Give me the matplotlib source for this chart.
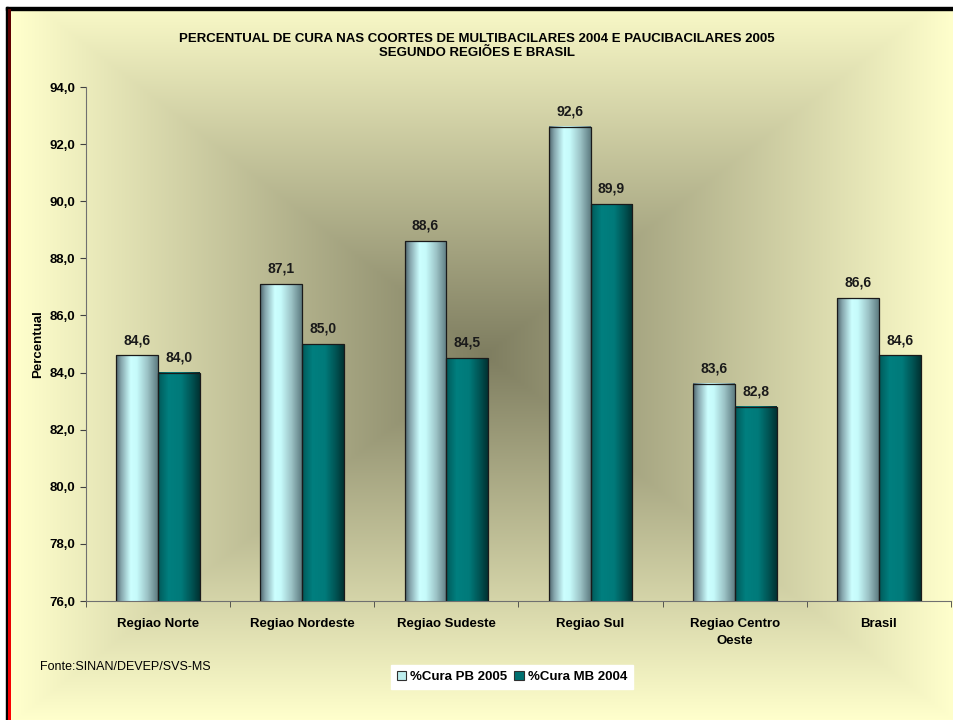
import numpy as np
import matplotlib
matplotlib.use('Agg')
import matplotlib.pyplot as plt
import matplotlib.patches as patches
from matplotlib.colors import LinearSegmentedColormap
from matplotlib.ticker import FuncFormatter, FixedLocator

plt.rcParams['font.family'] = ['Liberation Sans', 'DejaVu Sans']

# data
categories = ['Regiao Norte', 'Regiao Nordeste', 'Regiao Sudeste', 'Regiao Sul',
              'Regiao Centro\nOeste', 'Brasil']
cura_pb_2005 = [84.6, 87.1, 88.6, 92.6, 83.6, 86.6]
cura_mb_2004 = [84.0, 85.0, 84.5, 89.9, 82.8, 84.6]
series_names = ['%Cura PB 2005', '%Cura MB 2004']
y_ticks = [76, 78, 80, 82, 84, 86, 88, 90, 92, 94]

W, H = 954, 720
fig = plt.figure(figsize=(W / 100, H / 100), dpi=100)
fig.patch.set_facecolor('white')

# background: rectangular "from center" gradient
bg = fig.add_axes([0, 0, 1, 1])
bg.set_xlim(0, W)
bg.set_ylim(H, 0)
bg.axis('off')
gx = np.linspace(10, W, 400)
gy = np.linspace(10, H, 300)
XX, YY = np.meshgrid(gx, gy)
cx, cy = 485, 355
t = np.maximum(np.abs(XX - cx) / (W - cx), np.abs(YY - cy) / (H - cy))
t = np.clip(t, 0, 1)
dark = np.array([126, 125, 96]) / 255.
yel = np.array([255, 255, 204]) / 255.
img = dark[None, None, :] + (yel - dark)[None, None, :] * t[..., None]
bg.imshow(img, extent=(10, W, H, 10), aspect='auto', interpolation='bilinear', zorder=0)

# frame lines
bg.add_patch(patches.Rectangle((6, 7), W - 6, 2.5, color='black', zorder=3))
bg.add_patch(patches.Rectangle((6, 7), 2.2, H - 7, color='black', zorder=3))
red = np.linspace(0, 1, 200)[:, None, None] * np.array([1.0, 0, 0]) + \
      (1 - np.linspace(0, 1, 200))[:, None, None] * np.array([0.35, 0, 0])
bg.imshow(red, extent=(8.2, 10.5, H, 9.5), aspect='auto', zorder=3)
bg.set_xlim(0, W)
bg.set_ylim(H, 0)

# main axes
ax = fig.add_axes([86 / W, 119 / H, 865 / W, 514 / H])
ax.set_facecolor('none')

x = np.arange(len(categories))
w = 0.29
bars_pb = ax.bar(x - w / 2, cura_pb_2005, w, facecolor='none', edgecolor='#1a1a1a', lw=0.9, zorder=3)
bars_mb = ax.bar(x + w / 2, cura_mb_2004, w, facecolor='none', edgecolor='#1a1a1a', lw=0.9, zorder=3)

pb_cmap = LinearSegmentedColormap.from_list('pb', [
    (0.0, '#4f666e'), (0.12, '#86a6ad'), (0.35, '#ccffff'), (0.5, '#c6fafa'),
    (0.75, '#9cc3c6'), (1.0, '#5f7d82')])
mb_cmap = LinearSegmentedColormap.from_list('mb', [
    (0.0, '#005a5a'), (0.25, '#007f7f'), (0.55, '#007a7a'), (0.8, '#005555'),
    (1.0, '#003232')])

grad = np.linspace(0, 1, 100)[None, :]
for bars, cmap in ((bars_pb, pb_cmap), (bars_mb, mb_cmap)):
    for p in bars:
        ax.imshow(grad, cmap=cmap, extent=(p.get_x(), p.get_x() + p.get_width(), 76, p.get_height()),
                  aspect='auto', zorder=2, interpolation='bilinear')
        ax.annotate(f'{p.get_height():.1f}'.replace('.', ','),
                    (p.get_x() + p.get_width() / 2, p.get_height()),
                    xytext=(0, 6), textcoords='offset points', ha='center', va='bottom',
                    fontsize=10, fontweight='bold', color='#1a1a1a')

ax.set_xlim(-0.5, len(categories) - 0.5)
ax.set_ylim(76, 94)
ax.set_yticks(y_ticks)
ax.yaxis.set_major_formatter(FuncFormatter(lambda v, pos: f'{v:.1f}'.replace('.', ',')))
ax.set_xticks(x)
ax.set_xticklabels(categories, fontsize=9.5, fontweight='bold', linespacing=1.6)
ax.xaxis.set_minor_locator(FixedLocator(np.arange(-0.5, len(categories), 1.0)))
ax.tick_params(axis='x', which='major', length=0, pad=12)
ax.tick_params(axis='x', which='minor', length=4, color='#404040', direction='out')
ax.tick_params(axis='y', length=4, color='#404040', direction='out', labelsize=9.5)
for lab in ax.get_yticklabels():
    lab.set_fontweight('bold')
for s in ('top', 'right'):
    ax.spines[s].set_visible(False)
for s in ('left', 'bottom'):
    ax.spines[s].set_color('#707070')
ax.set_ylabel('Percentual', fontsize=9.5, fontweight='bold', labelpad=4)

fig.text(477 / W, 1 - 46 / H,
         'PERCENTUAL DE CURA NAS COORTES DE MULTIBACILARES 2004 E PAUCIBACILARES 2005\nSEGUNDO REGIÕES E BRASIL',
         ha='center', va='center', fontsize=9.5, fontweight='bold', linespacing=1.3)
fig.text(40 / W, 1 - 667 / H, 'Fonte:SINAN/DEVEP/SVS-MS', ha='left', va='center', fontsize=9)

handles = [patches.Patch(facecolor='#bdeeee', edgecolor='#303030', lw=0.8),
           patches.Patch(facecolor='#007070', edgecolor='#303030', lw=0.8)]
leg = fig.legend(handles, series_names, loc='center', bbox_to_anchor=(512 / W, 1 - 677 / H),
                 ncol=2, frameon=True, fancybox=False, handlelength=0.75, handleheight=0.75,
                 handletextpad=0.3, columnspacing=0.5, borderpad=0.45,
                 prop={'size': 9.5, 'weight': 'bold'})
leg.get_frame().set_facecolor('white')
leg.get_frame().set_edgecolor('white')
leg.get_frame().set_alpha(1)

fig.savefig('out.png', dpi=100)
